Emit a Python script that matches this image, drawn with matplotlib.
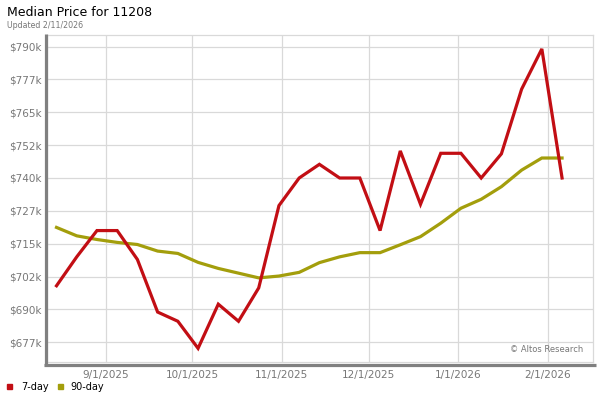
import datetime as dt
import matplotlib
matplotlib.use("Agg")
import matplotlib.pyplot as plt
import matplotlib.dates as mdates
from matplotlib.lines import Line2D
from matplotlib.ticker import FuncFormatter

# weekly data points, starting Fri 8/15/2025
start = dt.date(2025, 8, 15)
dates = [start + dt.timedelta(days=7 * i) for i in range(26)]

price_7day = [699000, 710000, 720000, 720000, 709000, 689000, 685500, 675200,
              692000, 685500, 698200, 729500, 740000, 745200, 740000, 740000,
              720000, 750300, 730000, 749400, 749400, 740000, 749200, 773800,
              789100, 740000]
price_90day = [721200, 718000, 716600, 715500, 714700, 712200, 711300, 707900,
               705600, 703800, 702000, 702700, 704100, 707800, 710000, 711600,
               711600, 714600, 717700, 722800, 728500, 731900, 736700, 743000,
               747600, 747600]

ytick_vals = [677500 + 12500 * k for k in range(10)]
xtick_dates = [dt.date(2025, 9, 1), dt.date(2025, 10, 1), dt.date(2025, 11, 1),
               dt.date(2025, 12, 1), dt.date(2026, 1, 1), dt.date(2026, 2, 1)]

red = '#c20e14'
olive = '#a39e0c'
grid_col = '#d9d9d9'
frame_col = '#808080'

fig = plt.figure(figsize=(6, 4), dpi=100)
ax = fig.add_axes([47 / 600, 1 - 362 / 400, (593 - 47) / 600, (362 - 35) / 400])

ax.plot(dates, price_90day, color=olive, lw=2.3, solid_joinstyle='miter', zorder=3)
ax.plot(dates, price_7day, color=red, lw=2.3, solid_joinstyle='miter', zorder=4)

ax.set_ylim(670000, 794400)
ax.set_xlim(dt.datetime(2025, 8, 11, 17), dt.datetime(2026, 2, 16, 17))
ax.set_yticks(ytick_vals)
ax.yaxis.set_major_formatter(FuncFormatter(lambda v, p: '$%dk' % int(v // 1000)))
ax.set_xticks(xtick_dates)
ax.xaxis.set_major_formatter(mdates.DateFormatter('%-m/%-d/%Y'))
ax.tick_params(length=0, labelsize=7.5, colors='#777777', pad=4)
ax.tick_params(axis='x', pad=6)
ax.grid(True, color=grid_col, lw=0.9)
ax.set_axisbelow(True)
for s in ax.spines.values():
    s.set_color(grid_col)
    s.set_linewidth(0.9)

# thick gray frame on left and bottom
fig.add_artist(Line2D([45.5 / 600, 45.5 / 600], [1 - 34 / 400, 1 - 366 / 400],
                      color=frame_col, lw=2.3, solid_capstyle='butt'))
fig.add_artist(Line2D([44 / 600, 596 / 600], [1 - 364.5 / 400, 1 - 364.5 / 400],
                      color=frame_col, lw=2.3, solid_capstyle='butt'))

fig.text(7 / 600, 1 - 12 / 400, 'Median Price for 11208', fontsize=9, va='center', ha='left')
fig.text(7 / 600, 1 - 25 / 400, 'Updated 2/11/2026', fontsize=5.7, va='center', ha='left', color='#777777')
ax.text(0.982, 0.025, '\u00a9 Altos Research', transform=ax.transAxes, fontsize=6,
        ha='right', va='bottom', color='#777777')

# legend
fig.patches.append(plt.Rectangle((7 / 600, 1 - 389 / 400), 5 / 600, 5 / 400,
                                 transform=fig.transFigure, color=red))
fig.text(21 / 600, 1 - 386.5 / 400, '7-day', fontsize=7, va='center', ha='left')
fig.patches.append(plt.Rectangle((58 / 600, 1 - 389 / 400), 5 / 600, 5 / 400,
                                 transform=fig.transFigure, color=olive))
fig.text(70 / 600, 1 - 386.5 / 400, '90-day', fontsize=7, va='center', ha='left')

fig.savefig('out.png', dpi=100)
